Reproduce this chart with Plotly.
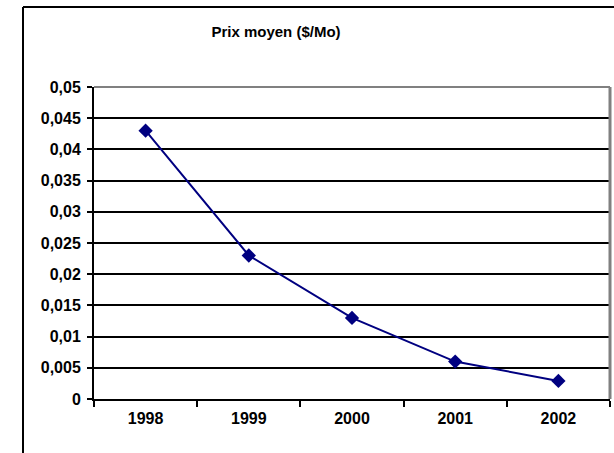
import plotly.graph_objects as go

years = ["1998", "1999", "2000", "2001", "2002"]
prix = [0.043, 0.023, 0.013, 0.006, 0.0029]
ytick_vals = [0, 0.005, 0.01, 0.015, 0.02, 0.025, 0.03, 0.035, 0.04, 0.045, 0.05]
ytick_text = ["0", "0,005", "0,01", "0,015", "0,02", "0,025", "0,03", "0,035", "0,04", "0,045", "0,05"]
title_text = "Prix moyen ($/Mo)"

W, H = 614, 453
L, R, T, B = 94, 610, 87, 399
pw, ph = R - L, B - T

def px(x):
    return (x - L) / pw

def py(y):
    return (B - y) / ph

FAM = "Liberation Sans, Arial, sans-serif"

fig = go.Figure()
fig.add_trace(go.Scatter(
    x=years, y=prix, mode="lines+markers",
    line=dict(color="#000080", width=2),
    marker=dict(symbol="diamond", size=11, color="#000080"),
    cliponaxis=False, showlegend=False,
))

fig.update_layout(
    width=W, height=H,
    margin=dict(l=L, r=W - R, t=T, b=H - B, pad=0),
    paper_bgcolor="white", plot_bgcolor="white",
    font=dict(family=FAM, size=16, color="black"),
    title=dict(text="<b>" + title_text + "</b>", x=px(276), xref="paper",
               y=1 - 32 / H, yref="container", xanchor="center", yanchor="middle",
               font=dict(family=FAM, size=15, color="black")),
    xaxis=dict(type="category", tickson="boundaries", ticks="outside", ticklen=6,
               tickcolor="black", tickwidth=2, showline=True, linecolor="black", linewidth=2,
               showgrid=False, tickfont=dict(family=FAM, size=16, color="black"),
               ticklabelstandoff=4, range=[-0.5, 4.5],
               tickvals=years, ticktext=["<b>%s</b>" % y for y in years]),
    yaxis=dict(range=[0, 0.05], tickvals=ytick_vals, ticktext=["<b>%s</b>" % t for t in ytick_text],
               ticks="outside", ticklen=5, tickcolor="black", tickwidth=2,
               showline=True, linecolor="black", linewidth=2,
               showgrid=True, gridcolor="black", gridwidth=2, zeroline=False,
               tickfont=dict(family=FAM, size=16, color="black"),
               ticklabelstandoff=3),
)

# plot-area gray top/right border
fig.add_shape(type="line", xref="paper", yref="paper", x0=0, x1=1, y0=1, y1=1,
              line=dict(color="#808080", width=2), layer="above")
fig.add_shape(type="line", xref="paper", yref="paper", x0=1, x1=1, y0=0, y1=1,
              line=dict(color="#808080", width=3), layer="above")
# outer chart frame (left and top edges visible)
fig.add_shape(type="line", xref="paper", yref="paper", x0=px(23), x1=px(W + 10), y0=py(7), y1=py(7),
              line=dict(color="black", width=2), layer="above")
fig.add_shape(type="line", xref="paper", yref="paper", x0=px(23), x1=px(23), y0=py(7), y1=py(H + 10),
              line=dict(color="black", width=2), layer="above")

fig.write_html("out.html", config={"displayModeBar": False},
               post_script="document.body.style.margin='0';")
